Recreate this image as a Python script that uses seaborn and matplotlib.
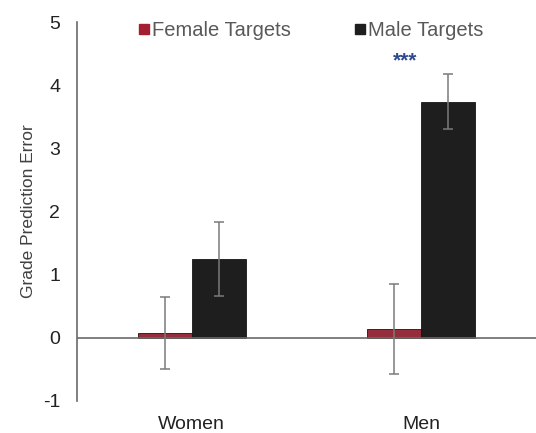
import matplotlib
matplotlib.use("Agg")
import matplotlib.pyplot as plt
from matplotlib.lines import Line2D
import seaborn as sns
import pandas as pd

groups = ["Women", "Men"]
targets = ["Female Targets", "Male Targets"]
female_means = [0.08, 0.14]
male_means = [1.25, 3.74]
female_err = [0.57, 0.72]
male_err = [0.59, 0.43]
palette = {"Female Targets": "#a51d30", "Male Targets": "#1e1e1e"}

df = pd.DataFrame({
    "group": groups * 2,
    "target": [targets[0]] * 2 + [targets[1]] * 2,
    "mean": female_means + male_means,
    "err": female_err + male_err,
})

sns.set_theme(style="white")
plt.rcParams["font.family"] = ["Liberation Sans", "DejaVu Sans"]
plt.rcParams["axes.unicode_minus"] = False

fig = plt.figure(figsize=(5.36, 4.33), dpi=100)
ax = fig.add_axes([0.1437, 0.074, 0.8563, 0.875])

sns.barplot(data=df, x="group", y="mean", hue="target", order=groups,
            hue_order=targets, palette=palette, width=0.47, errorbar=None,
            edgecolor="#151515", linewidth=0.6, ax=ax, legend=False)

# error bars at each bar's centre
for i, t in enumerate(targets):
    sub = df[df["target"] == t].set_index("group").loc[groups]
    cont = ax.containers[i]
    xs = [p.get_x() + p.get_width() / 2 for p in cont.patches]
    ax.errorbar(xs, sub["mean"], yerr=sub["err"], fmt="none",
                ecolor="#7a7a7a", elinewidth=1.1, capsize=3.5, capthick=1.1,
                zorder=5)

ax.axhline(0, color="#6a6a6a", linewidth=1.2, zorder=1)

# significance marker above the male-target bar for men
ax.text(1 - 0.07, 4.38, "***", color="#2e4a8f", ha="center", va="center",
        fontsize=15, fontweight="bold")

ax.set_ylim(-1, 5)
ax.set_xlim(-0.5, 1.5)
ax.set_yticks(range(-1, 6))
ax.set_xlabel("")
ax.set_ylabel("Grade Prediction Error", fontsize=12.5, color="#404040", labelpad=5)
ax.tick_params(axis="y", length=0, labelsize=14, colors="#222222", pad=12)
ax.tick_params(axis="x", length=0, labelsize=14, colors="#222222", pad=11)

for s in ["top", "right", "bottom"]:
    ax.spines[s].set_visible(False)
ax.spines["left"].set_color("#6a6a6a")
ax.spines["left"].set_linewidth(1.2)

handles = [Line2D([], [], marker="s", linestyle="none", markersize=7,
                  markerfacecolor=palette[t], markeredgecolor=palette[t])
           for t in targets]
ax.legend(handles, targets, ncol=2, frameon=False, loc="upper center",
          bbox_to_anchor=(0.50, 1.025), fontsize=14.5, handletextpad=-0.3,
          handlelength=1.4, columnspacing=2.7, labelcolor="#595959",
          borderaxespad=0)

fig.savefig("out.png", dpi=100)
